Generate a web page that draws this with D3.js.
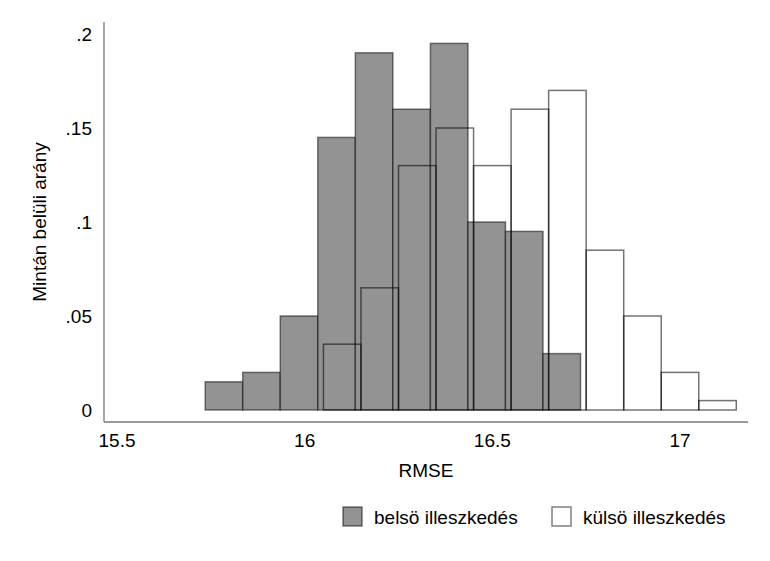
<!DOCTYPE html>
<html><head><meta charset="utf-8">
<script src="https://cdn.jsdelivr.net/npm/d3@7"></script>
<style>body{margin:0;background:#fff}svg{display:block}text{font-family:"Liberation Sans",Arial,sans-serif;fill:#000}</style>
</head><body>
<script>
const binWidth = 0.1;
const innerStarts = [15.735,15.835,15.935,16.035,16.135,16.235,16.335,16.435,16.535,16.635];
const innerValues = [0.015,0.02,0.05,0.145,0.19,0.16,0.195,0.10,0.095,0.03];
const outerStarts = [16.05,16.15,16.25,16.35,16.45,16.55,16.65,16.75,16.85,16.95,17.05];
const outerValues = [0.035,0.065,0.13,0.15,0.13,0.16,0.17,0.085,0.05,0.02,0.005];
const xTicks = [15.5,16,16.5,17];
const xTickLabels = ["15.5","16","16.5","17"];
const yTicks = [0,0.05,0.1,0.15,0.2];
const yTickLabels = ["0",".05",".1",".15",".2"];
const seriesNames = ["belsö illeszkedés","külsö illeszkedés"];

const W=770,H=561;
const svg=d3.select("body").append("svg").attr("width",W).attr("height",H);
const x=d3.scaleLinear().domain([15.5,17]).range([117,680]);
const y=d3.scaleLinear().domain([0,0.2]).range([410,34]);
const FS=19;

// axis lines
svg.append("line").attr("x1",104).attr("x2",104).attr("y1",22).attr("y2",422).attr("stroke","#777").attr("stroke-width",1.3);
svg.append("line").attr("x1",104).attr("x2",748).attr("y1",422).attr("y2",422).attr("stroke","#777").attr("stroke-width",1.3);

// tick labels
svg.selectAll(".xt").data(xTicks).enter().append("text")
 .attr("x",d=>x(d)).attr("y",447).attr("text-anchor","middle").attr("font-size",FS)
 .text((d,i)=>xTickLabels[i]);
svg.selectAll(".yt").data(yTicks).enter().append("text")
 .attr("x",92).attr("y",d=>y(d)+7).attr("text-anchor","end").attr("font-size",FS)
 .text((d,i)=>yTickLabels[i]);

svg.append("text").attr("x",426).attr("y",477).attr("text-anchor","middle").attr("font-size",FS).text("RMSE");
svg.append("text").attr("transform","translate(46,222) rotate(-90)").attr("text-anchor","middle").attr("font-size",FS).text("Mintán belüli arány");

// inner bars
svg.selectAll(".ib").data(innerValues).enter().append("rect")
 .attr("x",(d,i)=>x(innerStarts[i])).attr("width",(d,i)=>x(innerStarts[i]+binWidth)-x(innerStarts[i]))
 .attr("y",d=>y(d)).attr("height",d=>y(0)-y(d))
 .attr("fill","#939393").attr("stroke","rgba(0,0,0,0.5)").attr("stroke-width",1.5);
// outer bars
svg.selectAll(".ob").data(outerValues).enter().append("rect")
 .attr("x",(d,i)=>x(outerStarts[i])).attr("width",(d,i)=>x(outerStarts[i]+binWidth)-x(outerStarts[i]))
 .attr("y",d=>y(d)).attr("height",d=>y(0)-y(d))
 .attr("fill","none").attr("stroke","rgba(0,0,0,0.55)").attr("stroke-width",1.5);

// legend
const lg=[{x:343,fill:"#939393"},{x:552,fill:"#fff"}];
lg.forEach((l,i)=>{
 svg.append("rect").attr("x",l.x).attr("y",507).attr("width",19).attr("height",19)
  .attr("fill",l.fill).attr("stroke","rgba(0,0,0,0.5)").attr("stroke-width",1.5);
 svg.append("text").attr("x",l.x+31).attr("y",524).attr("font-size",FS).text(seriesNames[i]);
});
</script>
</body></html>
